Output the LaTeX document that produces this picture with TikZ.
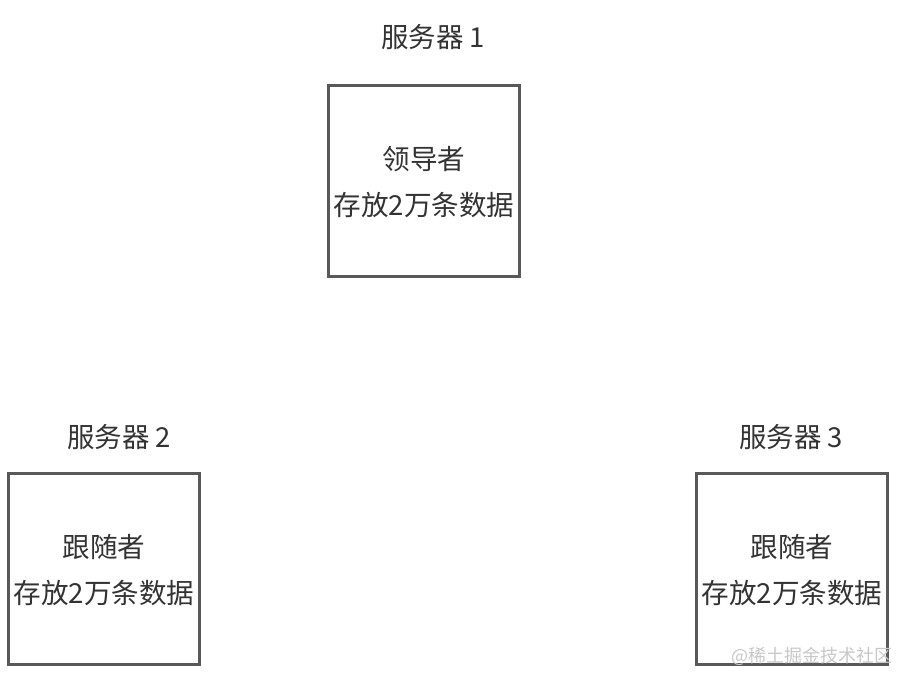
\documentclass[tikz,border=0pt]{standalone}
\usepackage{fontspec}
\setmainfont{Noto Sans CJK SC}
\newfontfamily\cjk{Noto Sans CJK SC}
\definecolor{boxline}{HTML}{595959}
\definecolor{txt}{HTML}{333333}
\definecolor{wm}{HTML}{C8C8C8}
\begin{document}
\begin{tikzpicture}[x=0.75pt,y=-0.75pt,
  serverbox/.style={draw=boxline,line width=2.25pt,fill=white,minimum width=143.5pt,minimum height=143.5pt,inner sep=0pt},
  title/.style={text=txt,font=\cjk\fontsize{20.6pt}{24pt}\selectfont,inner sep=0pt},
  body/.style={text=txt,font=\cjk\fontsize{20.7pt}{24pt}\selectfont,inner sep=0pt},
  wmark/.style={text=wm,font=\cjk\fontsize{13.5pt}{16pt}\selectfont,inner sep=0pt}]
\useasboundingbox[fill=white] (0,0) rectangle (900,672);
% boxes
\node[serverbox] (b1) at (424,181) {};
\node[serverbox] (b2) at (104,569) {};
\node[serverbox] (b3) at (792,569) {};
% titles
\node[title] (t1) at (433,37) {服务器 1};
\node[title] (t2) at (119,437) {服务器 2};
\node[title] (t3) at (791,437) {服务器 3};
% contents
\node[body] (l1a) at (424,159) {领导者};
\node[body] (l1b) at (424,205) {存放2万条数据};
\node[body] (l2a) at (104,547) {跟随者};
\node[body] (l2b) at (104,593) {存放2万条数据};
\node[body] (l3a) at (792,547) {跟随者};
\node[body] (l3b) at (792,593) {存放2万条数据};
% watermark
\node[wmark,anchor=east] (wmk) at (893,656) {@稀土掘金技术社区};
\end{tikzpicture}
\end{document}
